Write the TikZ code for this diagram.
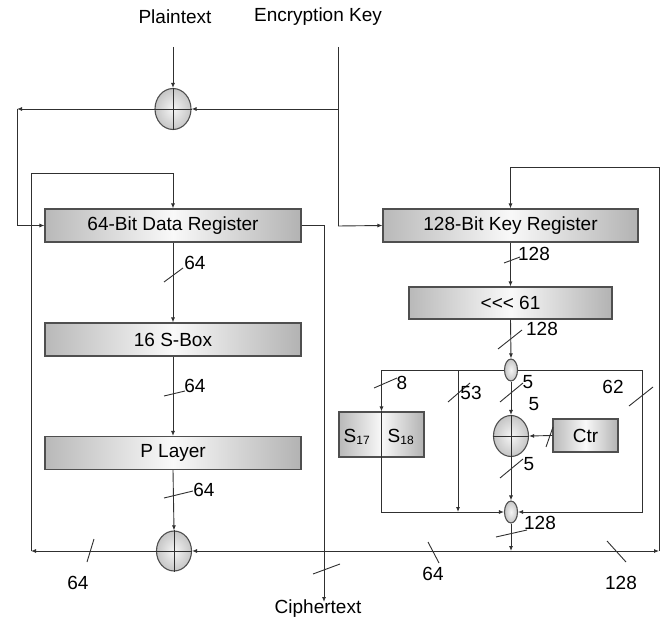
\documentclass[tikz,border=0pt]{standalone}
\usepackage{fontspec}
\setmainfont{Liberation Sans}
\usetikzlibrary{arrows.meta,shapes.geometric}
\definecolor{ln}{HTML}{303030}
\begin{document}
\begin{tikzpicture}[x=1pt,y=-1pt,
  every node/.style={font=\fontsize{19}{22}\selectfont},
  box/.style={draw=ln!85, line width=1.1pt, left color=gray!55, right color=gray!60, middle color=gray!5, inner sep=0pt},
  xorn/.style={ellipse, draw=ln!85, line width=1.1pt, inner color=gray!8, outer color=gray!45, inner sep=0pt},
  arr/.style={draw=ln, line width=0.9pt, -{Latex[length=5pt,width=4pt]}},
  ln/.style={draw=ln, line width=0.9pt},
  sl/.style={draw=ln, line width=0.9pt},
  lab/.style={inner sep=0pt}]
\useasboundingbox (0,0) rectangle (669,620);
% texts
\node[lab] (pt) at (175,17) {Plaintext};
\node[lab] (ek) at (318,17) {Encryption Key};
\node[lab] (ct) at (318,609) {Ciphertext};
% boxes
\node[box, minimum width=256pt, minimum height=33pt] (dr) at (173,225.5) {64-Bit Data Register};
\node[box, minimum width=256pt, minimum height=33pt] (sbx) at (173,339.5) {16 S-Box};
\node[box, minimum width=256pt, minimum height=33pt] (pl) at (173,453) {P Layer};
\node[box, minimum width=255pt, minimum height=33pt] (kr) at (510.5,225.5) {128-Bit Key Register};
\node[box, minimum width=203pt, minimum height=32pt] (rot) at (510.5,303) {<\kern0pt<\kern0pt< 61};
\node[box, minimum width=85pt, minimum height=45pt] (sb) at (381.5,434.5) {};
\node[box, minimum width=65pt, minimum height=33pt] (ctr) at (585.5,435.5) {Ctr};
\node[lab] (s17) at (357,437) {S\textsubscript{\fontsize{12}{12}\selectfont 17}};
\node[lab] (s18) at (401,437) {S\textsubscript{\fontsize{12}{12}\selectfont 18}};
% xors
\node[xorn, minimum width=36pt, minimum height=41pt] (x1) at (173,109) {};
\node[xorn, minimum width=35pt, minimum height=40pt] (x2) at (174,551) {};
\node[xorn, minimum width=35pt, minimum height=41pt] (x3) at (511,436) {};
\node[xorn, minimum width=13pt, minimum height=22pt] (e1) at (511,370) {};
\node[xorn, minimum width=13pt, minimum height=22pt] (e2) at (511,512) {};
\foreach \n in {x1,x2,x3}{
  \draw[ln] (\n.north) -- (\n.south);
  \draw[ln] (\n.west) -- (\n.east);
}
% coordinates
\coordinate (ptin) at (173,47);
\coordinate (ektop) at (338,47);
\coordinate (ekj) at (338,109);
\coordinate (ekc) at (338,226);
\coordinate (c1) at (17,109);
\coordinate (c2) at (31,551);
\coordinate (c3) at (31,173);
\coordinate (ctin) at (324,602);
\coordinate (kb) at (511,551);
\coordinate (kr1) at (659,551);
\coordinate (kr2) at (659,167);
\coordinate (c53) at (458,370);
\coordinate (c53b) at (458,512);
\coordinate (r1) at (642,370);
\coordinate (r2) at (642,512);
% connectors
\draw[arr] (ptin) -- (x1.north);
\draw[ln] (ektop) -- (ekc);
\draw[arr] (ekj) -- (x1.east);
\draw[arr] (ekc) -- (kr.west);
\draw[arr] (x1.west) -- (c1);
\draw[arr] (c1) |- (dr.west);
\draw[arr] (x2.west) -- (c2);
\draw[arr] (c2) -- (c3) -| (dr.north);
\draw[arr] (dr.south) -- (sbx.north);
\draw[arr] (sbx.south) -- (pl.north);
\draw[arr] (pl.south) -- (x2.north);
\draw[arr] (dr.east) -| (ctin);
\draw[arr] (kr.south) -- (rot.north);
\draw[arr] (rot.south) -- (e1.north);
\draw[arr] (e1.south) -- (x3.north);
\draw[arr] (x3.south) -- (e2.north);
\draw[arr] (e2.south) -- (kb);
\draw[arr] (kb) -- (x2.east);
\draw[arr] (kb) -- (kr1);
\draw[arr] (kr1) -- (kr2) -| (kr.north);
\draw[arr] (e1.west) -| (sb.north);
\draw[ln] (sb.north) -- (sb.south);
\draw[arr] (sb.south) |- (e2.west);
\draw[arr] (c53) -- (c53b);
\draw[arr] (e1.east) -- (r1) -- (r2) -- (e2.east);
\draw[arr] (ctr.west) -- (x3.east);
% bus width slashes
\draw[sl] (164,282) -- (183,268); \node[lab] (l1) at (195,263) {64};
\draw[sl] (164,396) -- (185,391); \node[lab] (l2) at (195,386) {64};
\draw[sl] (164,498) -- (193,491); \node[lab] (l3) at (204,490) {64};
\draw[sl] (87,562) -- (94,539);   \node[lab] (l4) at (78,583) {64};
\draw[sl] (313,574) -- (340,564);
\draw[sl] (504,263) -- (520,257); \node[lab] (l5) at (534,254) {128};
\draw[sl] (498,349) -- (522,330); \node[lab] (l6) at (542,329) {128};
\draw[sl] (374,388) -- (397,378); \node[lab] (l7) at (402,383) {8};
\draw[sl] (448,402) -- (470,383); \node[lab] (l8) at (471,393) {53};
\draw[sl] (500,402) -- (523,383); \node[lab] (l9) at (528,382) {5};
\node[lab] (l10) at (534,404) {5};
\draw[sl] (629,406) -- (653,387); \node[lab] (l11) at (613,387) {62};
\draw[sl] (546,447) -- (553,427);
\draw[sl] (500,478) -- (523,459); \node[lab] (l12) at (529,464) {5};
\draw[sl] (496,537) -- (527,530); \node[lab] (l13) at (540,523) {128};
\draw[sl] (428,542) -- (439,563); \node[lab] (l14) at (433,574) {64};
\draw[sl] (607,541) -- (626,562); \node[lab] (l15) at (621,583) {128};
\end{tikzpicture}
\end{document}
